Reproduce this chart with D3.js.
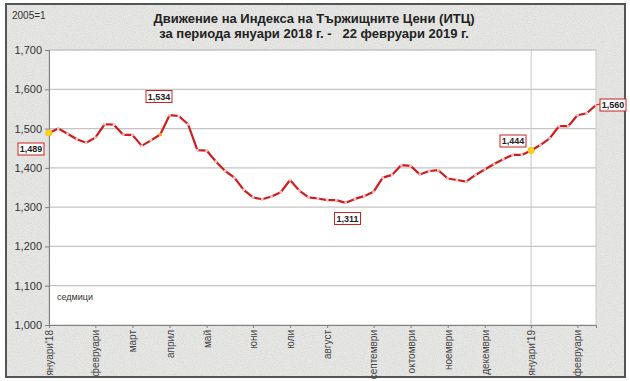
<!DOCTYPE html>
<html>
<head>
<meta charset="utf-8">
<script src="https://cdn.jsdelivr.net/npm/d3@7/dist/d3.min.js"></script>
<style>
  html, body { margin: 0; padding: 0; background: #ffffff; }
  svg { display: block; font-family: "Liberation Sans", Arial, sans-serif; }
  .pre { white-space: pre; }
</style>
</head>
<body>
<svg id="chart" width="630" height="381"></svg>
<script>
// Weekly index values (2005 = 1), 5 Jan 2018 – 22 Feb 2019
const values = [
  1.489, 1.500, 1.487, 1.473, 1.464, 1.477, 1.511, 1.510, 1.484, 1.484,
  1.456, 1.470, 1.485, 1.534, 1.532, 1.511, 1.445, 1.444, 1.416, 1.392,
  1.375, 1.344, 1.325, 1.320, 1.327, 1.338, 1.369, 1.342, 1.325, 1.322,
  1.318, 1.318, 1.311, 1.321, 1.328, 1.339, 1.375, 1.382, 1.407, 1.405,
  1.383, 1.392, 1.394, 1.373, 1.369, 1.365, 1.382, 1.396, 1.410, 1.422,
  1.433, 1.433, 1.444, 1.458, 1.475, 1.506, 1.506, 1.534, 1.539, 1.560
];
const monthLabels = ["януари'18", "февруари", "март", "април", "май", "юни", "юли",
  "август", "септември", "октомври", "ноември", "декември", "януари'19", "февруари"];
const monthWeek = [0, 5, 9, 13, 17, 22, 26, 30, 35, 39, 43, 47, 52, 57];
const yTicks = [1.0, 1.1, 1.2, 1.3, 1.4, 1.5, 1.6, 1.7];
const labelledWeeks = [0, 13, 32, 52, 59];
const highlightWeeks = [0, 52];
const titleLines = ["Движение на Индекса на Тържищните Цени (ИТЦ)",
  "за периода януари 2018 г. -   22 февруари 2019 г."];

const svg = d3.select("#chart");
const W = 630, H = 381;
const m = { left: 49, right: 596, top: 50, bottom: 325 };

const loc = d3.formatLocale({ decimal: ",", thousands: " ", grouping: [3], currency: ["", ""] });
const fmt = loc.format(".3f");

// background texture
const defs = svg.append("defs");
const f = defs.append("filter").attr("id", "grain").attr("x", 0).attr("y", 0).attr("width", "100%").attr("height", "100%");
f.append("feTurbulence").attr("type", "fractalNoise").attr("baseFrequency", 0.9).attr("numOctaves", 2).attr("seed", 3).attr("result", "n");
f.append("feColorMatrix").attr("type", "matrix")
  .attr("values", "0 0 0 0 0.45  0 0 0 0 0.45  0 0 0 0 0.44  0 0 0 -1.6 1.0");

svg.append("rect").attr("width", W).attr("height", H).attr("fill", "#ffffff");
svg.append("rect").attr("x", 6).attr("y", 4).attr("width", 619).attr("height", 373).attr("fill", "#e7e7e5");
svg.append("rect").attr("x", 6).attr("y", 4).attr("width", 619).attr("height", 373)
  .attr("fill", "#000").attr("filter", "url(#grain)").attr("opacity", 0.35);
svg.append("rect").attr("x", 6).attr("y", 4).attr("width", 619).attr("height", 373)
  .attr("fill", "none").attr("stroke", "#555").attr("stroke-width", 2);

const x = d3.scaleLinear().domain([0, values.length - 1]).range([m.left, m.right]);
const y = d3.scaleLinear().domain([1.0, 1.7]).range([m.bottom, m.top]);

// plot area
svg.append("rect").attr("x", m.left).attr("y", m.top).attr("width", m.right - m.left).attr("height", m.bottom - m.top)
  .attr("fill", "#ffffff").attr("stroke", "#c8c8c8");

// gridlines
svg.append("g").selectAll("line").data(yTicks.slice(1)).join("line")
  .attr("x1", m.left).attr("x2", m.right).attr("y1", d => y(d)).attr("y2", d => y(d))
  .attr("stroke", "#c4c4c4").attr("stroke-width", 1.2);

// vertical line at January 2019
svg.append("line").attr("x1", x(52)).attr("x2", x(52)).attr("y1", m.top).attr("y2", m.bottom + 6)
  .attr("stroke", "#c4c4c4").attr("stroke-width", 1);

// y axis
const yAxis = d3.axisLeft(y).tickValues(yTicks).tickFormat(fmt).tickSize(4).tickPadding(3);
const gy = svg.append("g").attr("transform", `translate(${m.left},0)`).call(yAxis);
gy.select(".domain").attr("stroke", "#808080");
gy.selectAll(".tick line").attr("stroke", "#808080");
gy.selectAll("text").attr("font-size", 11).attr("fill", "#333").attr("font-family", "Liberation Sans, Arial, sans-serif");

// x axis
const xAxis = d3.axisBottom(x).tickValues(monthWeek).tickFormat((d, i) => monthLabels[i]).tickSize(3).tickPadding(3);
const gx = svg.append("g").attr("transform", `translate(0,${m.bottom})`).call(xAxis);
gx.select(".domain").attr("stroke", "#808080");
gx.selectAll(".tick line").attr("stroke", "#808080");
gx.selectAll("text")
  .attr("font-size", 10).attr("fill", "#444").attr("font-family", "Liberation Sans, Arial, sans-serif")
  .attr("transform", "rotate(-90)")
  .attr("text-anchor", "end")
  .attr("x", -5).attr("y", 0).attr("dy", "0.35em");

// line
const line = d3.line().x((d, i) => x(i)).y(d => y(d));
svg.append("path").datum(values).attr("d", line).attr("fill", "none")
  .attr("stroke", "#d01c1c").attr("stroke-width", 2.2).attr("stroke-linejoin", "round");

svg.append("g").selectAll("rect").data(values).join("rect")
  .attr("x", (d, i) => x(i) - 1.3).attr("y", d => y(d) - 1.3).attr("width", 2.6).attr("height", 2.6)
  .attr("fill", "#f6c6c6");

svg.append("g").selectAll("circle").data(highlightWeeks).join("circle")
  .attr("cx", d => x(d)).attr("cy", d => y(values[d])).attr("r", 3.2)
  .attr("fill", "#ffd21a").attr("stroke", "#e8b400").attr("stroke-width", 0.6);
svg.append("circle").attr("cx", x(12)).attr("cy", y(values[12])).attr("r", 1.8).attr("fill", "#f0a020");

// data labels
const labelPos = {
  0: [31, 149], 13: [159, 96.5], 32: [347.5, 218.5], 52: [513, 141], 59: [613, 105]
};
const lg = svg.append("g");
labelledWeeks.forEach(w => {
  const [cx, cy] = labelPos[w];
  const g = lg.append("g");
  g.append("rect").attr("x", cx - 13).attr("y", cy - 6).attr("width", 26).attr("height", 12)
    .attr("fill", "#fff").attr("stroke", "#d02020").attr("stroke-width", 1);
  g.append("text").attr("x", cx).attr("y", cy).attr("dy", "0.35em").attr("text-anchor", "middle")
    .attr("font-size", 9).attr("font-weight", "bold").attr("fill", "#222").text(fmt(values[w]));
});
// leader for last label
svg.append("line").attr("x1", x(59)).attr("y1", y(values[59])).attr("x2", 600).attr("y2", 104)
  .attr("stroke", "#d01c1c").attr("stroke-width", 1);

// titles
svg.append("g").selectAll("text").data(titleLines).join("text")
  .attr("class", "pre").attr("xml:space", "preserve")
  .attr("x", 314).attr("y", (d, i) => 23 + i * 15).attr("text-anchor", "middle")
  .attr("font-size", 13).attr("font-weight", "bold").attr("fill", "#222").text(d => d);

svg.append("text").attr("x", 12).attr("y", 19).attr("font-size", 10).attr("fill", "#333").text("2005=1");
svg.append("text").attr("x", 57).attr("y", 300).attr("font-size", 9).attr("fill", "#333").text("седмици");
</script>
</body>
</html>
